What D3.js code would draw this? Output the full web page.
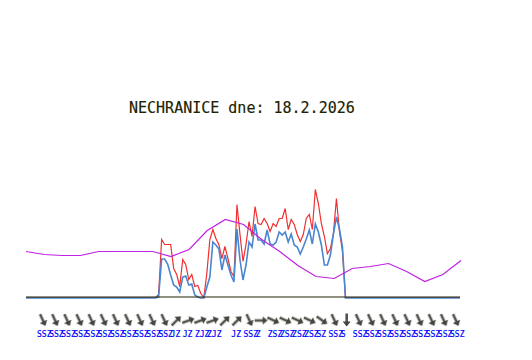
<!DOCTYPE html>
<html>
<head>
<meta charset="utf-8">
<script src="https://cdn.jsdelivr.net/npm/d3@7"></script>
<style>
  html, body { margin: 0; background: #fff; }
</style>
</head>
<body>
<div id="container"></div>
<script>
/* DATA */
const title = "NECHRANICE dne: 18.2.2026";

// 10 minute samples, sample index 44 is where the wind starts
const firstSample = 44;
const gust = [0.3, 5.8, 5.3, 5.3, 5.3, 2.9, 2.3, 1.1, 3.8, 3.3, 1.8, 2.3, 1.1, 1.2, 0.4, 0, 2.4, 5.8, 6.8, 5.9, 5.3, 3.9, 5.1, 3.9, 2.6, 2.1, 9.3, 6.3, 3.6, 5.3, 7.6, 6.1, 9.1, 7.4,
  7.3, 7.9, 7.4, 6.6, 7.4, 7.1, 7.9, 7.9, 8.9, 6.8, 7.8, 7.3, 6.3, 5.6, 6.3, 7.9, 8.3, 6.8, 10.8, 9.4, 7.4, 6.1, 4.4, 4.9, 6.4, 9.9, 6.6, 4.6, 0];
const wind = [0.1, 3.9, 3.9, 3.4, 2.3, 1.3, 1.1, 0.6, 2.1, 2.2, 1.3, 1.4, 0.3, 0.1, 0, 0, 1.1, 2.1, 5.6, 5.3, 4.9, 2.8, 4.3, 3.3, 2.3, 1.6, 6.9, 3.8, 1.8, 3.3, 5.6, 5.1, 7.4, 5.8,
  5.8, 5.4, 6.8, 5.4, 5.3, 5.6, 6.6, 6.3, 6.6, 5.6, 6.4, 5.3, 5.1, 4.4, 5.1, 5.9, 6.8, 5.4, 7.4, 6.6, 5.3, 3.3, 3.3, 4.3, 6.4, 8.1, 6.9, 5.1, 0];

// hourly
const temp = [4.6, 4.3, 4.2, 4.2, 4.6, 4.6, 4.6, 4.6, 4.1, 4.8, 6.7, 7.8, 7.3, 5.8, 4.6, 3.2, 2.1, 1.9, 2.9, 3.1, 3.4, 2.6, 1.6, 2.3, 3.7];

const dirLabels = ["SSZ", "SSZ", "SSZ", "SSZ", "SSZ", "SSZ", "SSZ", "SSZ", "SSZ", "SSZ", "SSZ", "JZ", "JZ", "ZJZ", "ZJZ", "", "JZ", "SSZ", "Z", "ZSZ", "ZSZ", "ZSZ", "ZSZ", "SZ", "SSZ", "S", "SSZ", "SSZ", "SSZ", "SSZ", "SSZ", "SSZ", "SSZ", "SSZ", "SSZ"];
const dirAngles = [155, 155, 155, 155, 155, 155, 155, 155, 155, 155, 155, 45, 70, 70, 70, 45, 45, 155, 90, 115, 115, 115, 115, 125, 155, 180, 155, 155, 155, 155, 155, 155, 155, 155, 155];

/* CONSTANTS AND GLOBALS */
const width = 532, height = 360;

const xScale = d3.scaleLinear().domain([0, 144]).range([26, 460]);
const yScale = d3.scaleLinear().domain([0, 12]).range([297.5, 177.5]);
const tempX = d3.scaleLinear().domain([0, 24]).range([26, 461]);
const dirX = d3.scaleLinear().domain([0, dirLabels.length - 1]).range([43, 456]);

/* HTML ELEMENTS */
const svg = d3.select("#container")
  .append("svg")
  .attr("width", width)
  .attr("height", height)
  .style("display", "block");

// soft edge on the arrows
svg.append("filter")
  .attr("id", "soft")
  .append("feGaussianBlur")
  .attr("stdDeviation", 0.4);

svg.append("text")
  .attr("x", 129)
  .attr("y", 113)
  .attr("fill", "#222200")
  .attr("font-family", "DejaVu Sans Mono")
  .attr("font-size", 15)
  .attr("stroke", "#222200")
  .attr("stroke-width", 0.15)
  .text(title);

// full day of samples, calm before and after the recorded part
const fullSeries = values => d3.range(145).map(i => {
  const v = values[i - firstSample];
  return [i, v === undefined ? 0 : v];
});

const windLine = d3.line()
  .x(d => xScale(d[0]))
  .y(d => yScale(d[1]));

svg.append("path")
  .attr("d", windLine(fullSeries(gust)))
  .attr("fill", "none")
  .attr("stroke", "#f03030")
  .attr("stroke-width", 1.2);

svg.append("path")
  .attr("d", windLine(fullSeries(wind)))
  .attr("transform", "translate(0,0.5)")
  .attr("fill", "none")
  .attr("stroke", "#4a86d0")
  .attr("stroke-width", 1.6);

// axis line
svg.append("line")
  .attr("x1", xScale(0))
  .attr("x2", xScale(144))
  .attr("y1", yScale(0) - 0.5)
  .attr("y2", yScale(0) - 0.5)
  .attr("stroke", "#222200")
  .attr("stroke-width", 1);

svg.append("path")
  .attr("d", d3.line().x((d, i) => tempX(i)).y(d => yScale(d))(temp))
  .attr("fill", "none")
  .attr("stroke", "#c020e0")
  .attr("stroke-width", 1.2);

// wind arrows
const arrows = svg.selectAll("g.arrow")
  .data(dirAngles)
  .join("g")
  .attr("class", "arrow")
  .attr("transform", (d, i) => `translate(${dirX(i)},320.5) rotate(${d})`)
  .attr("filter", "url(#soft)");

arrows.append("path")
  .attr("d", "M0,7 L0,-3")
  .attr("stroke", "#555550")
  .attr("stroke-width", 2.6);

arrows.append("path")
  .attr("d", "M-4,-1 L0,-6 L4,-1 Z")
  .attr("fill", "#444440");

// wind direction labels, left aligned under each arrow
svg.selectAll("text.dir")
  .data(dirLabels)
  .join("text")
  .attr("class", "dir")
  .attr("x", (d, i) => dirX(i) - 6)
  .attr("y", 337)
  .attr("fill", "#0000ff")
  .attr("font-family", "DejaVu Sans Mono")
  .attr("font-size", 8)
  .attr("stroke", "#0000ff")
  .attr("stroke-width", 0.2)
  .text(d => d);
</script>
</body>
</html>
